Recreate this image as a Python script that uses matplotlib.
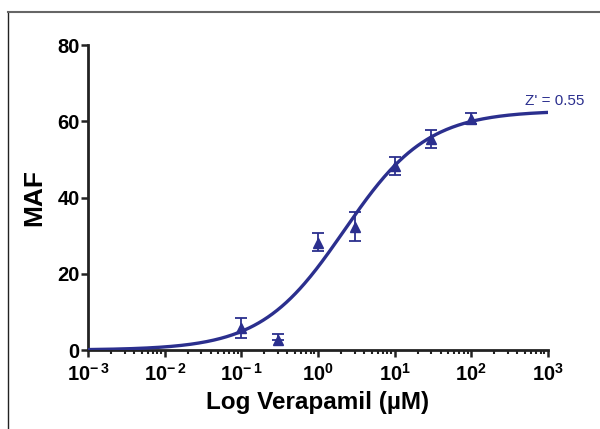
import numpy as np
import matplotlib
matplotlib.use("Agg")
import matplotlib.pyplot as plt
from matplotlib.lines import Line2D
from matplotlib.ticker import FixedLocator, LogLocator, NullFormatter

plt.rcParams['font.family'] = ['Liberation Sans', 'DejaVu Sans']
plt.rcParams['mathtext.fontset'] = 'custom'
plt.rcParams['mathtext.rm'] = 'Liberation Sans:bold'
plt.rcParams['mathtext.bf'] = 'Liberation Sans:bold'

# measured points (concentration in uM, MAF mean, error)
conc = [0.1, 0.3, 1, 3, 10, 30, 100]
maf = [5.8, 2.6, 28.2, 32.3, 48.3, 55.4, 60.7]
err_lo = [2.7, 0.0, 2.2, 3.8, 2.3, 2.3, 1.5]
err_hi = [2.7, 1.6, 2.4, 3.8, 2.3, 2.3, 1.6]

# four-parameter logistic fit
fit_bottom = 0.0
fit_top = 62.8
fit_ec50 = 2.2
fit_hill = 0.8

exponents = [-3, -2, -1, 0, 1, 2, 3]
tick_labels = [r'$\mathbf{10^{-\,%d}}$' % -k if k < 0 else r'$\mathbf{10^{%d}}$' % k
               for k in exponents]

blue = '#2b2f8e'

fig = plt.figure(figsize=(6, 4.29), dpi=100)
ax = fig.add_axes([0.1467, 0.184, 0.7666, 0.711])

xs = np.logspace(-3, 3, 400)
ys = fit_bottom + (fit_top - fit_bottom) / (1 + (fit_ec50 / xs) ** fit_hill)
ax.plot(xs, ys, color=blue, lw=2.4, zorder=3)

ax.errorbar(conc, maf, yerr=[err_lo, err_hi], fmt='^', color=blue,
            ms=7, elinewidth=1.3, capsize=4.5, capthick=1.3, zorder=4)

ax.set_xscale('log')
ax.set_xlim(1e-3, 1e3)
ax.set_ylim(0, 80)

ax.xaxis.set_major_locator(FixedLocator([10.0 ** k for k in exponents]))
ax.xaxis.set_minor_locator(LogLocator(base=10, subs=np.arange(2, 10), numticks=20))
ax.xaxis.set_minor_formatter(NullFormatter())
ax.set_xticklabels(tick_labels)
ax.set_yticks([0, 20, 40, 60, 80])

for s in ['top', 'right']:
    ax.spines[s].set_visible(False)
for s in ['left', 'bottom']:
    ax.spines[s].set_linewidth(2.0)
    ax.spines[s].set_color('#222222')

ax.tick_params(axis='both', which='major', width=1.8, length=5,
               color='#222222', labelsize=14.5)
ax.tick_params(axis='x', which='major', pad=4)
ax.tick_params(axis='y', which='major', pad=1)
ax.tick_params(axis='x', which='minor', width=1.5, length=3, color='#222222')
for lab in ax.get_yticklabels():
    lab.set_fontweight('bold')

ax.set_xlabel('Log Verapamil (µM)', fontsize=17.5, fontweight='bold', labelpad=5)
ax.set_ylabel('MAF', fontsize=19, fontweight='bold', labelpad=8)

ax.text(3000, 63.6, "Z' = 0.55", color=blue, fontsize=11,
        ha='right', va='bottom', clip_on=False)

fig.add_artist(Line2D([8 / 600, 8 / 600], [0, 1 - 12 / 429],
                      transform=fig.transFigure, color='#222222', lw=1.0))
fig.add_artist(Line2D([8 / 600, 1], [1 - 12 / 429, 1 - 12 / 429],
                      transform=fig.transFigure, color='#666666', lw=1.5))

fig.savefig('out.png', dpi=100)
